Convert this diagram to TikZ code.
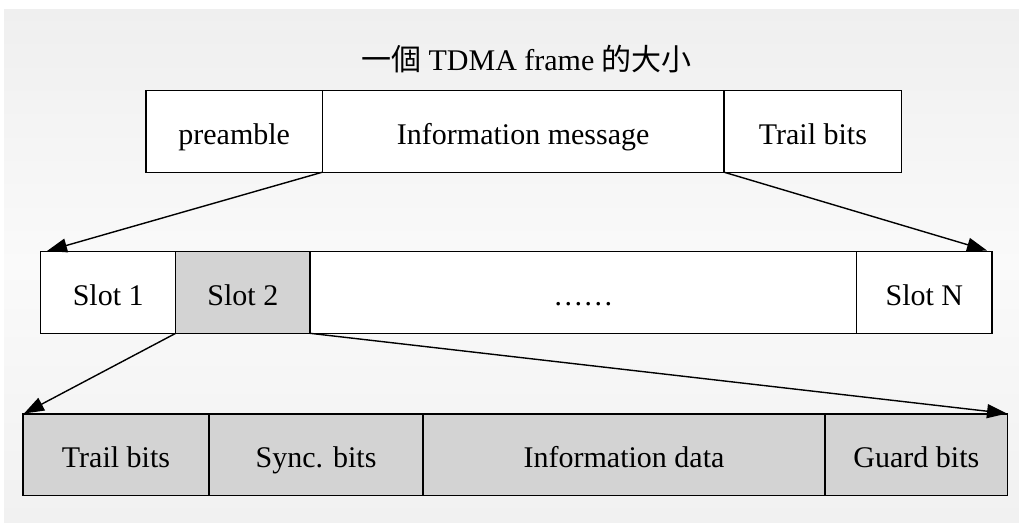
\documentclass[tikz,border=0pt]{standalone}
\usepackage{fontspec}
\setmainfont{Liberation Serif}
\newfontfamily\cjk{Noto Sans CJK TC}
\usetikzlibrary{arrows.meta}

\definecolor{cellgray}{HTML}{D3D3D3}
\definecolor{paneltop}{HTML}{EFEFEF}
\definecolor{panelmid}{HTML}{FAFAFA}
\definecolor{panelbot}{HTML}{F1F1F1}

\tikzset{
  cell/.style={draw=black, line width=1.4pt, fill=white, outer sep=0pt, inner sep=0pt,
    minimum height=82pt, text height=25.6pt, text depth=0pt,
    font=\fontsize{30}{36}\selectfont},
  grey/.style={fill=cellgray},
  link/.style={draw=black, line width=1.4pt, -{Triangle[length=20pt,width=14pt]}}
}

\begin{document}
\begin{tikzpicture}[x=1pt,y=-1pt]
  \useasboundingbox (0,0) rectangle (1019,522);
  % page and shaded panel
  \fill[white] (0,0) rectangle (1019,522);
  \shade[top color=paneltop, bottom color=panelbot, middle color=panelmid]
    (4,9) rectangle (1019,522);

  % heading
  \node[font=\fontsize{30}{36}\selectfont, anchor=base, inner sep=0pt] (title) at (526.5,70.7)
    {{\cjk 一個} TDMA frame {\cjk 的大小}};

  % frame layout
  \node[cell, minimum width=176.3pt] (pre)   at (234.2,131.2) {preamble};
  \node[cell, minimum width=401.7pt] (info)  at (523.2,131.2) {Information message};
  \node[cell, minimum width=177.7pt] (trail) at (812.9,131.2) {Trail bits};

  % slots
  \node[cell, minimum width=135pt, minimum height=81.6pt] (s1)  at (108.2,292.5) {Slot 1};
  \node[cell, grey, minimum width=134.3pt, minimum height=81.6pt] (s2) at (242.85,292.5) {Slot 2};
  \node[cell, minimum width=546.7pt, minimum height=81.6pt] (sdots) at (583.35,292.5) {……};
  \node[cell, minimum width=135.3pt, minimum height=81.6pt] (sN) at (924.35,292.5) {Slot N};

  % slot contents
  \node[cell, grey, minimum width=186pt, minimum height=81.7pt] (b1) at (116,454.85) {Trail bits};
  \node[cell, grey, minimum width=214pt, minimum height=81.7pt] (b2) at (316,454.85) {Sync. bits};
  \node[cell, grey, minimum width=402pt, minimum height=81.7pt] (b3) at (624,454.85) {Information data};
  \node[cell, grey, minimum width=182.7pt, minimum height=81.7pt] (b4) at (916.35,454.85) {Guard bits};

  % arrow targets
  \coordinate (tA) at (47,251);
  \coordinate (tB) at (987,250.5);
  \coordinate (tC) at (24,413.5);
  \coordinate (tD) at (1007,413.5);

  \draw[link] (pre.south east) -- (tA);
  \draw[link] (info.south east) -- (tB);
  \draw[link] (s1.south east) -- (tC);
  \draw[link] (s2.south east) -- (tD);
\end{tikzpicture}
\end{document}
